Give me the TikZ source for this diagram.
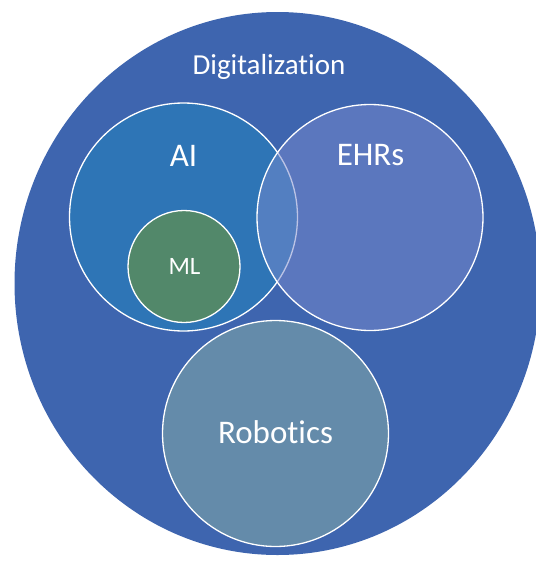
\documentclass[tikz,border=0pt]{standalone}
\usepackage{fontspec}
\setmainfont{Carlito}[Ligatures=NoCommon]
\usetikzlibrary{shapes.geometric}
\definecolor{digiblue}{RGB}{62,101,175}
\definecolor{aiblue}{RGB}{46,117,182}
\definecolor{ehrblue}{RGB}{120,137,205}
\definecolor{mlgreen}{RGB}{82,136,106}
\definecolor{robogrey}{RGB}{100,139,170}

\begin{document}
\begin{tikzpicture}[x=1pt,y=-1pt,
        venn/.style={circle,draw=white,line width=1.3pt,inner sep=0pt},
        tag/.style={text=white,inner sep=0pt,anchor=base}]
        \useasboundingbox (0,0) rectangle (536,571);
        % outer set and the circles inside it
        \node (digi) [ellipse, inner sep=0pt, fill=digiblue, minimum width=526pt, minimum height=543pt] at (277.5,283.5) {};
        \node (ai) [venn, fill=aiblue, minimum size=228pt] at (183.5,217) {};
        \node (ml) [venn, fill=mlgreen, minimum size=112pt] at (184,266.5) {};
        \node (ehr) [venn, fill=ehrblue, fill opacity=0.5, minimum size=226pt] at (370,217.5) {};
        \node (robo) [venn, fill=robogrey, minimum size=226pt] at (275.5,433.5) {};
        % set names
        \node (tdigi) [tag, font=\fontsize{29}{34}\selectfont] at (269,74) {Digitalization};
        \node (tai) [tag, font=\fontsize{33}{40}\selectfont] at (183.5,166) {AI};
        \node (tehr) [tag, font=\fontsize{33}{40}\selectfont] at (370.5,165) {EHRs};
        \node (tml) [tag, font=\fontsize{25}{30}\selectfont] at (184.5,274) {ML};
        \node (trobo) [tag, font=\fontsize{33}{40}\selectfont] at (275.5,443) {Robotics};
\end{tikzpicture}
\end{document}
